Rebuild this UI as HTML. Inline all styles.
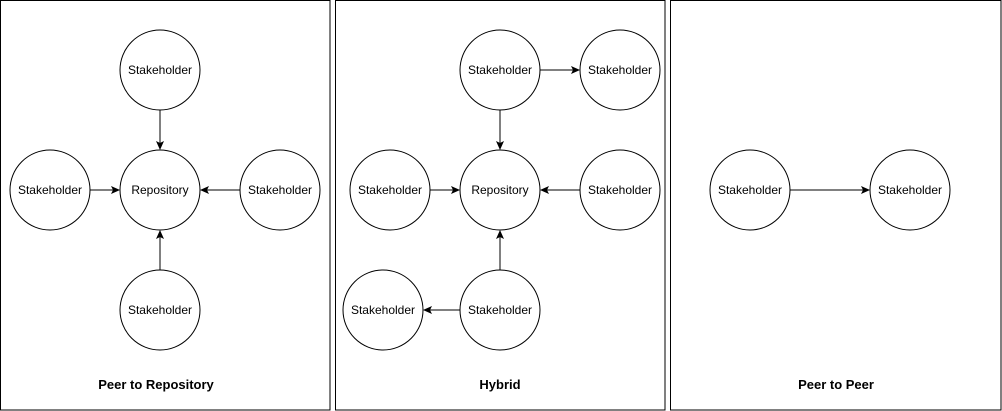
<!DOCTYPE html>
<html><head><meta charset="utf-8"><style>
html,body{margin:0;padding:0;background:#fff;}
svg{display:block;}
text{font-family:"Liberation Sans",Arial,sans-serif;}
</style></head><body>
<svg width="1002" height="411" viewBox="0 0 1002 411" xmlns="http://www.w3.org/2000/svg">
<defs>
<marker id="a" markerWidth="10" markerHeight="10" refX="8" refY="5" orient="auto" markerUnits="userSpaceOnUse">
<path d="M0,1 L9,5 L0,9 L2,5 Z" fill="#000"/>
</marker>
</defs>
<g fill="none" stroke="#000" stroke-width="1">
<rect x="0.5" y="0.5" width="329.5" height="409.5"/>
<rect x="335.5" y="0.5" width="329.5" height="409.5"/>
<rect x="670.5" y="0.5" width="330.5" height="409.5"/>
</g>
<g fill="#fff" stroke="#000" stroke-width="1">
<circle cx="160" cy="70" r="40"/>
<circle cx="50" cy="190" r="40"/>
<circle cx="160" cy="190" r="40"/>
<circle cx="280" cy="190" r="40"/>
<circle cx="160" cy="310" r="40"/>
<circle cx="500" cy="70" r="40"/>
<circle cx="620" cy="70" r="40"/>
<circle cx="390" cy="190" r="40"/>
<circle cx="500" cy="190" r="40"/>
<circle cx="620" cy="190" r="40"/>
<circle cx="500" cy="310" r="40"/>
<circle cx="383" cy="310" r="40"/>
<circle cx="750" cy="190" r="40"/>
<circle cx="910" cy="190" r="40"/>
</g>
<g stroke="#000" stroke-width="1" marker-end="url(#a)">
<line x1="160" y1="110" x2="160" y2="149"/>
<line x1="90" y1="190" x2="119" y2="190"/>
<line x1="240" y1="190" x2="201" y2="190"/>
<line x1="160" y1="270" x2="160" y2="231"/>
<line x1="500" y1="110" x2="500" y2="149"/>
<line x1="540" y1="70" x2="579" y2="70"/>
<line x1="430" y1="190" x2="459" y2="190"/>
<line x1="580" y1="190" x2="541" y2="190"/>
<line x1="500" y1="270" x2="500" y2="231"/>
<line x1="460" y1="310" x2="424" y2="310"/>
<line x1="790" y1="190" x2="869" y2="190"/>
</g>
<g font-size="12" fill="#000" text-anchor="middle">
<text x="160" y="74">Stakeholder</text>
<text x="50" y="194">Stakeholder</text>
<text x="160" y="194">Repository</text>
<text x="280" y="194">Stakeholder</text>
<text x="160" y="314">Stakeholder</text>
<text x="500" y="74">Stakeholder</text>
<text x="620" y="74">Stakeholder</text>
<text x="390" y="194">Stakeholder</text>
<text x="500" y="194">Repository</text>
<text x="620" y="194">Stakeholder</text>
<text x="500" y="314">Stakeholder</text>
<text x="383" y="314">Stakeholder</text>
<text x="750" y="194">Stakeholder</text>
<text x="910" y="194">Stakeholder</text>
</g>
<g font-size="13" font-weight="bold" fill="#000" text-anchor="middle">
<text x="156" y="389">Peer to Repository</text>
<text x="500" y="389">Hybrid</text>
<text x="836" y="389">Peer to Peer</text>
</g>
</svg>
</body></html>
